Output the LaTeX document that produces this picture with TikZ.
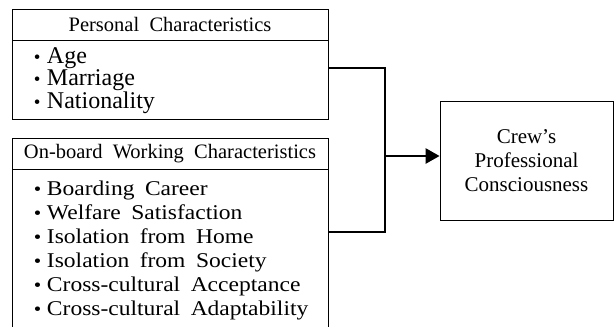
\documentclass[tikz,border=0pt]{standalone}
\usepackage{fontspec}
\setmainfont{Liberation Serif}
\newfontfamily\largo[FakeStretch=1.12]{Liberation Serif}
\usetikzlibrary{arrows.meta}
\newcommand{\voce}[1]{\makebox[13pt][l]{\fontsize{19}{19}\selectfont\textbullet}\mbox{#1}}
\tikzset{
  box/.style={draw,line width=0.8pt,minimum width=316pt,inner sep=0pt},
  head/.style={box,minimum height=31pt,font=\fontsize{20.5}{22}\selectfont},
  list/.style={box,anchor=north,align=left,text width=272pt,inner xsep=22pt},
  link/.style={line width=2.6pt},
}
\begin{document}
\begin{tikzpicture}[x=1pt,y=-1pt]
        \useasboundingbox (0,0) rectangle (614,327);
        %blocco caratteristiche personali
        \node[head] (pers) at (170,24.5) {Personal\ \ Characteristics};
        \node[list,minimum height=79pt,font=\fontsize{24}{22.5}\selectfont] (perslist) at (pers.south)
             {\voce{Age}\\ \voce{Marriage}\\ \voce{Nationality}};
        %blocco caratteristiche di bordo
        \node[head] (work) at (170,153.5) {On-board\ \ Working\ \ Characteristics};
        \node[list,minimum height=162pt,font=\largo\fontsize{21}{24}\selectfont] (worklist) at (work.south)
             {\voce{Boarding\ \,Career}\\ \voce{Welfare\ \,Satisfaction}\\ \voce{Isolation\ \,from\ \,Home}\\
              \voce{Isolation\ \,from\ \,Society}\\ \voce{Cross-cultural\ \,Acceptance}\\ \voce{Cross-cultural\ \,Adaptability}};
        %blocco coscienza professionale
        \node[draw,line width=0.8pt,minimum width=173pt,minimum height=119pt,align=center,
              font=\fontsize{21}{24}\selectfont] (crew) at (526.5,160.5)
             {Crew's\\ Professional\\ Consciousness};
        %collegamenti
        \coordinate (split) at (385,156);
        \draw[link] ([yshift=12.5pt]perslist.east) -| (split) |- ([yshift=19pt]worklist.east);
        \draw[link,-{Triangle[length=14pt,width=15pt]}] (split) -- (split -| crew.west);
\end{tikzpicture}
\end{document}
